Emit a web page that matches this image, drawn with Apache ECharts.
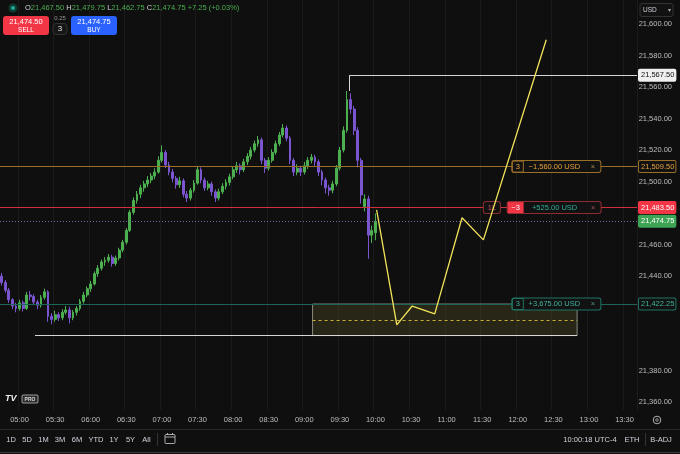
<!DOCTYPE html>
<html>
<head>
<meta charset="utf-8">
<script src="https://cdn.jsdelivr.net/npm/echarts@6/dist/echarts.min.js"></script>
<style>
html,body{margin:0;padding:0;background:#0f0f0f;}
#c{width:680px;height:454px;}
</style>
</head>
<body>
<div id="c"></div>
<script>
// ---- candle data: 3-minute bars from 04:45 to 10:00 ----
const opens = [
21440,21436,21431,21425,21421,21419.5,21423,21419.5,21428,21427,
21423.5,21421.5,21426.5,21430,21414.5,21412.5,21415.5,21413.5,21417,21418.5,
21413.5,21417,21419.5,21424,21428,21432,21435,21441.5,21445,21449,
21450,21452,21448,21451.5,21456.5,21461.5,21469,21480.5,21488,21492,
21496,21498.5,21501,21503.5,21506,21513.5,21518.5,21510.5,21506,21502,
21498,21500.5,21492,21489.5,21494.5,21499,21507.5,21501,21496,21498.5,
21493.5,21489.5,21493.5,21497,21499.5,21503,21507.5,21510,21507.5,21512.5,
21516,21520,21524,21526.5,21513.5,21508.5,21513.5,21518.5,21524,21529.5,
21534,21527.5,21513.5,21506,21508.5,21506,21510,21513.5,21515.5,21512.5,
21506,21501,21496,21494.5,21498.5,21508.5,21520,21532.5,21552,21546,
21532.5,21513.5,21484,21489,21466,21467.5];
const closes = [
21436,21431,21425,21421,21419.5,21423,21419.5,21428,21427,21423.5,
21421.5,21426.5,21430,21414.5,21412.5,21415.5,21413.5,21417,21418.5,21413.5,
21417,21419.5,21424,21428,21432,21435,21441.5,21445,21449,21450,
21452,21448,21451.5,21456.5,21461.5,21469,21480.5,21488,21492,21496,
21498.5,21501,21503.5,21506,21513.5,21518.5,21510.5,21506,21502,21498,
21500.5,21492,21489.5,21494.5,21499,21507.5,21501,21496,21498.5,21493.5,
21489.5,21493.5,21497,21499.5,21503,21507.5,21510,21507.5,21512.5,21516,
21520,21524,21526.5,21513.5,21508.5,21513.5,21518.5,21524,21529.5,21534,
21527.5,21513.5,21506,21508.5,21506,21510,21513.5,21515.5,21512.5,21506,
21501,21496,21494.5,21498.5,21508.5,21520,21532.5,21552,21546,21532.5,
21513.5,21491.5,21489,21466,21469,21474.75];
const lows = [
21434,21429.5,21423,21419,21417,21418,21417.5,21418.5,21424.5,21421.5,
21419,21420,21425,21411,21409.5,21411,21411.5,21412,21415.5,21410,
21412,21415,21418,21422.5,21426.5,21430,21434,21439.5,21443.5,21446.5,
21448.5,21446,21446.5,21450,21455,21460,21468,21479,21486,21489.5,
21493.5,21496.5,21499,21501.5,21505,21512,21508.5,21504,21499.5,21495.5,
21496,21490,21487,21488,21493,21498,21499,21494,21494.5,21491,
21487,21488,21492,21495,21497.5,21501.5,21505.5,21504.5,21506,21510.5,
21514,21518.5,21522,21511,21505.5,21507,21512,21517,21522.5,21528,
21525.5,21511,21503.5,21504,21503.5,21504.5,21508,21511.5,21510,21503.5,
21497.5,21492.5,21491,21492.5,21497,21507,21518.5,21531,21543,21529.5,
21509,21486,21481,21451,21461,21462.75];
const highs = [
21442,21437.5,21432.5,21426,21423,21425,21424.5,21430,21430.5,21428.5,
21425,21428,21432,21431,21416.5,21418,21417,21419,21421,21420.5,
21418.5,21421,21425.5,21430,21433.5,21437,21443,21447,21450.5,21452,
21454,21453.5,21453,21458,21463,21470.5,21482,21490,21494,21498,
21500.5,21503.5,21505.5,21508.5,21516,21523,21520,21512.5,21508,21503.5,
21503,21502,21494,21496,21501,21510,21509,21502.5,21500.5,21500,
21495,21495.5,21499,21501.5,21505,21509.5,21512.5,21511.5,21514.5,21518,
21522,21526,21529,21528,21515,21515.5,21520.5,21526,21531.5,21536.5,
21535.5,21529,21515,21511,21510,21512.5,21515.5,21517.5,21517,21514,
21507.5,21502.5,21498,21500.5,21510.5,21522,21535,21557.5,21556,21548,
21534.5,21515,21492,21491,21472,21479.75];

// ---- axis ticks ----
const priceTicks = [21600,21580,21560,21540,21520,21500,21460,21440,21380,21360];

// ---- drawings ----
const pathTimes  = ['10:01','10:18','10:31','10:50','11:13','11:31','12:24'];
const pathPrices = [21482, 21409, 21421, 21416, 21477, 21463, 21590];
const highLevel = 21567.50, highTouch = 21557.5, highTime = '09:38';
const lowLevel = 21402.25, lowStart = '05:13';
const boxStart = '09:07', boxEnd = '12:50', boxTop = 21422.25, boxBottom = 21402.25, boxMid = 21412.25;
const orderTarget = 21509.50, orderEntry = 21483.50, orderStop = 21422.25, lastPrice = 21474.75;

function toMin(s){const p=s.split(':');return (+p[0])*60+(+p[1])-300;}
function fmt(v){return v.toLocaleString('en-US',{minimumFractionDigits:2,maximumFractionDigits:2});}

const categories=[];
for(let m=-15;m<=519;m+=3){const t=m+300;const h=Math.floor(t/60),mm=t%60;categories.push((h<10?'0':'')+h+':'+(mm<10?'0':'')+mm);}
const candleData = opens.map((o,i)=>[o,closes[i],lows[i],highs[i]]);
const halfHour = (i,v)=>/:(00|30)$/.test(v);
const FONT='Liberation Sans, Arial, sans-serif';
const xMax = -16.5 + categories.length*3;

function tag(text,bg,fg,border){
  return {show:true,position:'end',distance:2,formatter:text,fontSize:7.5,fontFamily:FONT,color:fg,
    backgroundColor:bg,borderColor:border||bg,borderWidth:1,borderRadius:1,padding:[2,1,1,2]};
}
function orderLabel(fmtStr,border,rich){
  return {show:true,position:'right',distance:0,formatter:fmtStr,backgroundColor:'#121212',
    borderColor:border,borderWidth:1,borderRadius:2,padding:0,fontFamily:FONT,fontSize:7.5,rich:rich};
}

const graphics = [
    {type:'circle',shape:{cx:13,cy:8,r:4.5},style:{fill:'#0d3b34'}},
    {type:'circle',shape:{cx:13,cy:8,r:2},style:{fill:'#22ab94'}},
    {type:'text',style:{x:25,y:8,verticalAlign:'middle',font:'7.5px '+FONT,
      text:'{l|O}{g|21,467.50} {l|H}{g|21,479.75} {l|L}{g|21,462.75} {l|C}{g|21,474.75} {g|+7.25 (+0.03%)}',
      rich:{l:{fill:'#d1d4dc',font:'7.5px '+FONT},g:{fill:'#4caf50',font:'7.5px '+FONT}}}},
    {type:'rect',shape:{x:3,y:16,width:46,height:19,r:3},style:{fill:'#f23645'}},
    {type:'text',style:{x:26,y:22,align:'center',verticalAlign:'middle',text:'21,474.50',fill:'#fff',font:'7.5px '+FONT}},
    {type:'text',style:{x:26,y:30.5,align:'center',verticalAlign:'middle',text:'SELL',fill:'#fff',font:'6.5px '+FONT}},
    {type:'text',style:{x:60,y:18.5,align:'center',verticalAlign:'middle',text:'0.25',fill:'#9a9a9a',font:'6px '+FONT}},
    {type:'rect',shape:{x:53,y:23.5,width:14,height:11,r:3},style:{fill:'#161616',stroke:'#333',lineWidth:1}},
    {type:'text',style:{x:60,y:29.2,align:'center',verticalAlign:'middle',text:'3',fill:'#e0e0e0',font:'8px '+FONT}},
    {type:'rect',shape:{x:71,y:16,width:46,height:19,r:3},style:{fill:'#2962ff'}},
    {type:'text',style:{x:94,y:22,align:'center',verticalAlign:'middle',text:'21,474.75',fill:'#fff',font:'7.5px '+FONT}},
    {type:'text',style:{x:94,y:30.5,align:'center',verticalAlign:'middle',text:'BUY',fill:'#fff',font:'6.5px '+FONT}},
    {type:'rect',shape:{x:640,y:3.5,width:33,height:13,r:2},style:{fill:'#121212',stroke:'#333',lineWidth:1}},
    {type:'text',style:{x:643,y:10.2,verticalAlign:'middle',text:'USD',fill:'#d1d4dc',font:'6.5px '+FONT}},
    {type:'text',style:{x:669,y:10,align:'center',verticalAlign:'middle',text:'▾',fill:'#aaa',font:'6px '+FONT}},
    {type:'text',style:{x:5,y:399,verticalAlign:'middle',text:'TV',fill:'#f0f0f0',font:'bold italic 9px '+FONT}},
    {type:'rect',shape:{x:22,y:395,width:16,height:8,r:1},style:{fill:'#2a2a2a',stroke:'#bbbbbb',lineWidth:0.8}},
    {type:'text',style:{x:30,y:399.3,align:'center',verticalAlign:'middle',text:'PRO',fill:'#dddddd',font:'bold 5px '+FONT}},
    {type:'circle',shape:{cx:657,cy:420,r:3.8},style:{fill:'none',stroke:'#b0b0b0',lineWidth:1}},
    {type:'circle',shape:{cx:657,cy:420,r:1.3},style:{fill:'none',stroke:'#b0b0b0',lineWidth:0.8}},
    {type:'line',shape:{x1:0,y1:429.5,x2:680,y2:429.5},style:{stroke:'#262626',lineWidth:1}},
    {type:'line',shape:{x1:0,y1:452.5,x2:680,y2:452.5},style:{stroke:'#3a3a3a',lineWidth:1}},
    {type:'text',style:{x:11,y:439.5,align:'center',verticalAlign:'middle',text:'1D',fill:'#d1d4dc',font:'7.5px '+FONT}},
    {type:'text',style:{x:27,y:439.5,align:'center',verticalAlign:'middle',text:'5D',fill:'#d1d4dc',font:'7.5px '+FONT}},
    {type:'text',style:{x:43.5,y:439.5,align:'center',verticalAlign:'middle',text:'1M',fill:'#d1d4dc',font:'7.5px '+FONT}},
    {type:'text',style:{x:60,y:439.5,align:'center',verticalAlign:'middle',text:'3M',fill:'#d1d4dc',font:'7.5px '+FONT}},
    {type:'text',style:{x:77,y:439.5,align:'center',verticalAlign:'middle',text:'6M',fill:'#d1d4dc',font:'7.5px '+FONT}},
    {type:'text',style:{x:96,y:439.5,align:'center',verticalAlign:'middle',text:'YTD',fill:'#d1d4dc',font:'7.5px '+FONT}},
    {type:'text',style:{x:114,y:439.5,align:'center',verticalAlign:'middle',text:'1Y',fill:'#d1d4dc',font:'7.5px '+FONT}},
    {type:'text',style:{x:130.5,y:439.5,align:'center',verticalAlign:'middle',text:'5Y',fill:'#d1d4dc',font:'7.5px '+FONT}},
    {type:'text',style:{x:146.5,y:439.5,align:'center',verticalAlign:'middle',text:'All',fill:'#d1d4dc',font:'7.5px '+FONT}},
    {type:'line',shape:{x1:157.5,y1:433,x2:157.5,y2:446},style:{stroke:'#333',lineWidth:1}},
    {type:'rect',shape:{x:165,y:434.5,width:10,height:9,r:1},style:{fill:'none',stroke:'#bbb',lineWidth:0.9}},
    {type:'line',shape:{x1:165,y1:437,x2:175,y2:437},style:{stroke:'#bbb',lineWidth:0.9}},
    {type:'line',shape:{x1:167.5,y1:433,x2:167.5,y2:435},style:{stroke:'#bbb',lineWidth:0.9}},
    {type:'line',shape:{x1:172.5,y1:433,x2:172.5,y2:435},style:{stroke:'#bbb',lineWidth:0.9}},
    {type:'text',style:{x:590,y:439.5,align:'center',verticalAlign:'middle',text:'10:00:18 UTC-4',fill:'#d1d4dc',font:'7.5px '+FONT}},
    {type:'text',style:{x:632,y:439.5,align:'center',verticalAlign:'middle',text:'ETH',fill:'#d1d4dc',font:'7.5px '+FONT}},
    {type:'line',shape:{x1:645.5,y1:433,x2:645.5,y2:446},style:{stroke:'#333',lineWidth:1}},
    {type:'text',style:{x:661,y:439.5,align:'center',verticalAlign:'middle',text:'B-ADJ',fill:'#d1d4dc',font:'7.5px '+FONT}}
];
graphics.forEach(g=>{g.z=100;});

const chart = echarts.init(document.getElementById('c'),null,{renderer:'canvas'});
chart.setOption({
  animation:false,
  backgroundColor:'#0f0f0f',
  textStyle:{fontFamily:FONT},
  grid:{left:0,right:43,top:0,bottom:44},
  xAxis:[
    {type:'category',data:categories,boundaryGap:true,
     axisLine:{show:false},axisTick:{show:false},
     axisLabel:{interval:halfHour,color:'#bdbdbd',fontSize:7.5,margin:6,fontFamily:FONT},
     splitLine:{show:true,interval:halfHour,lineStyle:{color:'#1b1b1b',width:1}}},
    {type:'value',min:-16.5,max:xMax,show:false}
  ],
  yAxis:{type:'value',position:'right',min:21355,max:21615.25,scale:true,
     splitLine:{show:false},axisLine:{show:false},axisTick:{show:false},
     axisLabel:{customValues:priceTicks,formatter:fmt,color:'#bdbdbd',fontSize:7.5,align:'right',margin:35,fontFamily:FONT}},
  series:[
    {type:'line',xAxisIndex:1,data:[],z:1,clip:false,silent:true,
     markArea:{silent:true,data:[[{coord:[toMin(boxStart),boxTop],itemStyle:{color:'rgba(100,96,42,0.3)',borderColor:'#8a8a80',borderWidth:1}},{coord:[toMin(boxEnd),boxBottom]}]]},
     markLine:{silent:true,symbol:['none','none'],precision:2,
      data:[
        {yAxis:orderTarget,lineStyle:{color:'#9a7028',width:1,type:'solid'},label:tag(fmt(orderTarget),'#121212','#e3a23a','#9a7028')},
        {yAxis:orderEntry,lineStyle:{color:'#d0303c',width:1,type:'solid'},label:tag(fmt(orderEntry),'#f23645','#ffffff')},
        {yAxis:lastPrice,lineStyle:{color:'#7a6aa8',width:1,type:[1,2]},label:tag(fmt(lastPrice),'#3ea455','#ffffff')},
        {yAxis:orderStop,lineStyle:{color:'#1d6557',width:1,type:'solid'},label:tag(fmt(orderStop),'#121212','#3fb39c','#1f7565')},
        {yAxis:lowLevel,lineStyle:{opacity:0},label:tag(fmt(lowLevel),'#f0f0f0','#111111')},
        [{coord:[toMin(highTime),highLevel],lineStyle:{color:'#d6d6d6',width:1,type:'solid'},label:tag(fmt(highLevel),'#f0f0f0','#111111')},{coord:[xMax,highLevel]}],
        [{coord:[toMin(highTime),highTouch],lineStyle:{color:'#d6d6d6',width:1,type:'solid'},label:{show:false}},{coord:[toMin(highTime),highLevel]}],
        [{coord:[toMin(lowStart),lowLevel],lineStyle:{color:'#d6d6d6',width:1,type:'solid'},label:{show:false}},{coord:[toMin(boxEnd),lowLevel]}],
        [{coord:[toMin(boxStart),boxMid],lineStyle:{color:'#c9b03a',width:1,type:[3,3]},label:{show:false}},{coord:[toMin(boxEnd),boxMid]}]
      ]},
     markPoint:{silent:true,symbol:'rect',symbolSize:1,itemStyle:{color:'rgba(0,0,0,0)'},
      data:[
        {coord:[toMin('11:55'),orderTarget],label:orderLabel('{q|3}{t|−1,560.00 USD}{x|×}','#9a7028',{
          q:{width:11,align:'center',color:'#e3a23a',lineHeight:11,height:11,borderColor:'#9a7028',borderWidth:1},
          t:{width:62,align:'center',color:'#e3a23a',lineHeight:11,height:11},
          x:{width:15,align:'center',color:'#b08a4a',lineHeight:11,height:11}})},
        {coord:[toMin('11:31'),orderEntry],label:orderLabel('{l|1L}','#8f2c33',{
          l:{width:16,align:'center',color:'#d0505a',lineHeight:11,height:11}})},
        {coord:[toMin('11:51'),orderEntry],label:orderLabel('{q|−3}{t|+525.00 USD}{x|×}','#8f2c33',{
          q:{width:16,align:'center',color:'#ffffff',backgroundColor:'#f23645',lineHeight:11,height:11},
          t:{width:62,align:'center',color:'#2fae96',lineHeight:11,height:11},
          x:{width:15,align:'center',color:'#b0505a',lineHeight:11,height:11}})},
        {coord:[toMin('11:55'),orderStop],label:orderLabel('{q|3}{t|+3,675.00 USD}{x|×}','#1f7565',{
          q:{width:11,align:'center',color:'#3fb39c',lineHeight:11,height:11,borderColor:'#1f7565',borderWidth:1},
          t:{width:62,align:'center',color:'#3fb39c',lineHeight:11,height:11},
          x:{width:15,align:'center',color:'#4f9a8a',lineHeight:11,height:11}})}
      ]}
    },
    {type:'candlestick',xAxisIndex:0,yAxisIndex:0,data:candleData,barWidth:'66%',z:3,
     itemStyle:{color:'#4caf50',color0:'#7b55d0',borderColor:'#4caf50',borderColor0:'#7b55d0',borderWidth:1}},
    {type:'line',xAxisIndex:1,data:pathTimes.map((t,i)=>[toMin(t),pathPrices[i]]),symbol:'none',z:5,clip:false,
     lineStyle:{color:'#f2e45a',width:1.3}}
  ],
  graphic:graphics
});
</script>
</body>
</html>
